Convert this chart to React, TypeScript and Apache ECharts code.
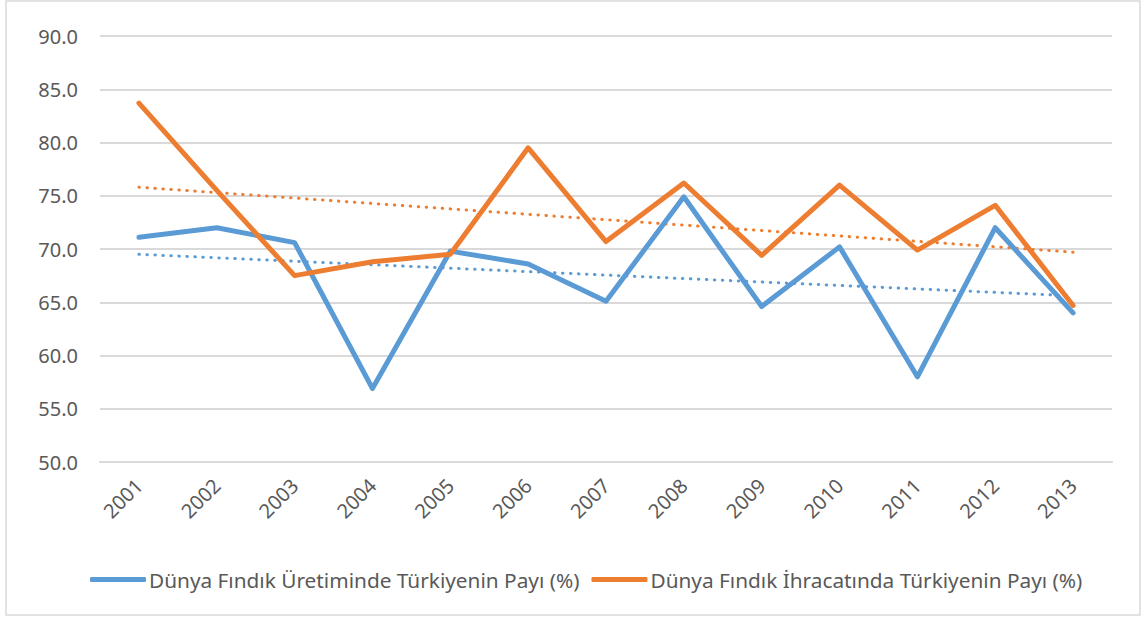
import React, { useEffect, useRef } from "react";
import * as echarts from "echarts";

const years = ["2001", "2002", "2003", "2004", "2005", "2006", "2007", "2008", "2009", "2010", "2011", "2012", "2013"];
const productionShare = [71.1, 72.0, 70.6, 56.9, 69.8, 68.6, 65.1, 74.9, 64.6, 70.2, 58.0, 72.0, 64.0];
const exportShare = [83.7, 75.5, 67.5, 68.8, 69.5, 79.5, 70.7, 76.2, 69.4, 76.0, 69.9, 74.1, 64.7];
const productionTrend = [69.5, 65.6];
const exportTrend = [75.8, 69.7];
const productionName = "Dünya Fındık Üretiminde Türkiyenin Payı (%)";
const exportName = "Dünya Fındık İhracatında Türkiyenin Payı (%)";

const BLUE = "#5B9BD5";
const ORANGE = "#ED7D31";
const TEXT = "#595959";
const FONT = "Noto Sans";

export default function App() {
  const ref = useRef<HTMLDivElement>(null);
  useEffect(() => {
    document.body.style.margin = "0";
    const chart = echarts.init(ref.current!, null, { renderer: "svg" });
    const first = years[0];
    const last = years[years.length - 1];
    chart.setOption({
      animation: false,
      backgroundColor: "#ffffff",
      textStyle: { fontFamily: FONT },
      graphic: [
        {
          type: "rect",
          shape: { x: 6, y: 1, width: 1134, height: 614 },
          style: { fill: "none", stroke: "#d9d9d9", lineWidth: 1.5 },
          silent: true,
        },
      ],
      grid: { left: 100, right: 34, top: 36, bottom: 157, containLabel: false },
      legend: {
        data: [productionName, exportName],
        top: 564,
        left: 85,
        icon: "roundRect",
        itemWidth: 56,
        itemHeight: 5,
        itemGap: 12,
        textStyle: { color: TEXT, fontSize: 20.8, fontFamily: FONT, padding: [0, 0, 0, -2] },
      },
      xAxis: {
        type: "category",
        data: years,
        boundaryGap: true,
        axisLine: { show: true, lineStyle: { color: "#d9d9d9", width: 2 } },
        axisTick: { show: false },
        axisLabel: { rotate: 45, color: TEXT, fontSize: 20, fontFamily: FONT, margin: 20 },
      },
      yAxis: {
        type: "value",
        min: 50,
        max: 90,
        interval: 5,
        axisLine: { show: false },
        axisTick: { show: false },
        splitLine: { lineStyle: { color: "#d9d9d9", width: 2 } },
        axisLabel: {
          color: TEXT,
          fontSize: 20,
          fontFamily: FONT,
          margin: 22,
          formatter: (v: number) => v.toFixed(1),
        },
      },
      series: [
        {
          name: productionName + " trend",
          type: "line",
          data: [[first, productionTrend[0]], [last, productionTrend[1]]],
          symbol: "none",
          lineStyle: { color: BLUE, width: 3, type: [0.5, 7.5], cap: "round" },
          z: 1,
          silent: true,
        },
        {
          name: exportName + " trend",
          type: "line",
          data: [[first, exportTrend[0]], [last, exportTrend[1]]],
          symbol: "none",
          lineStyle: { color: ORANGE, width: 3, type: [0.5, 7.5], cap: "round" },
          z: 1,
          silent: true,
        },
        {
          name: productionName,
          type: "line",
          data: productionShare,
          symbol: "none",
          itemStyle: { color: BLUE },
          lineStyle: { color: BLUE, width: 5, cap: "round", join: "round" },
          z: 2,
        },
        {
          name: exportName,
          type: "line",
          data: exportShare,
          symbol: "none",
          itemStyle: { color: ORANGE },
          lineStyle: { color: ORANGE, width: 5, cap: "round", join: "round" },
          z: 3,
        },
      ],
    });
    return () => chart.dispose();
  }, []);
  return <div ref={ref} style={{ width: 1146, height: 619 }} />;
}
